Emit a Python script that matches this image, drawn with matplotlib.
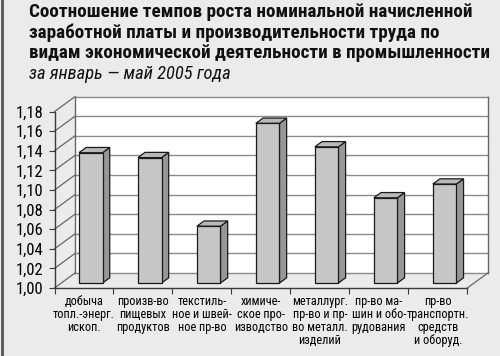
import numpy as np
import matplotlib.pyplot as plt
from matplotlib.patches import Polygon
from matplotlib.lines import Line2D

categories = ['добыча\nтопл.-энерг.\nископ.',
              'произв-во\nпищевых\nпродуктов',
              'текстиль-\nное и швей-\nное пр-во',
              'химиче-\nское про-\nизводство',
              'металлург.\nпр-во и пр-\nво металл.\nизделий',
              'пр-во ма-\nшин и обо-\nрудования',
              'пр-во\nтранспортн.\nсредств\nи оборуд.']
values = [1.133, 1.128, 1.058, 1.163, 1.139, 1.087, 1.101]
yticks = [1.00, 1.02, 1.04, 1.06, 1.08, 1.10, 1.12, 1.14, 1.16, 1.18]
ytick_labels = ['1,00', '1,02', '1,04', '1,06', '1,08', '1,10', '1,12', '1,14', '1,16', '1,18']

title_lines = ['Соотношение темпов роста номинальной начисленной',
               'заработной платы и производительности труда по',
               'видам экономической деятельности в промышленности']
subtitle = 'за январь — май 2005 года'

NARROW = ['Roboto Condensed', 'DejaVu Sans']
BG = '#ebebeb'
GRID = '#8a8a8a'
EDGE = '#3a3a3a'

fig = plt.figure(figsize=(5, 3.56), dpi=100, facecolor=BG)
renderer = fig.canvas.get_renderer()


def fit_size(s, target_px, **kw):
    # font size that makes the string s about target_px wide
    t = fig.text(0, 0, s, fontsize=10, family=NARROW, **kw)
    wpx = t.get_window_extent(renderer).width
    t.remove()
    return 10 * target_px / wpx


ax = fig.add_axes([0.109, 0.191, 0.8256, 0.4955])
ax.set_facecolor('none')
n = len(values)
x0, x1 = -0.5, n - 0.5
y0, y1 = yticks[0], yticks[-1]
ax.set_xlim(x0, x1)
ax.set_ylim(y0, y1)

# depth of the box (pixels) expressed in data units
box = ax.get_window_extent()
ddx = 20.5 * (x1 - x0) / box.width
ddy = 15.0 * (y1 - y0) / box.height


def sh(x, y, d):
    return (x + d * ddx, y + d * ddy)


# back wall
wall = Polygon([sh(x0, y0, 1), sh(x1, y0, 1), sh(x1, y1, 1), sh(x0, y1, 1)],
               closed=True, facecolor='white', edgecolor='none', zorder=0, clip_on=False)
ax.add_patch(wall)
for t in yticks:
    ax.plot([x0 + ddx, x1 + ddx], [t + ddy, t + ddy], color=GRID, lw=1, zorder=1, clip_on=False)
    ax.plot([x0, x0 + ddx], [t, t + ddy], color='#666666', lw=0.9, zorder=1, clip_on=False)
ax.plot([x0 + ddx, x0 + ddx], [y0 + ddy, y1 + ddy], color='#666666', lw=1, zorder=1, clip_on=False)
ax.plot([x1 + ddx, x1 + ddx], [y0 + ddy, y1 + ddy], color='#666666', lw=1, zorder=1, clip_on=False)
ax.plot([x1, x1 + ddx], [y0, y0 + ddy], color='#666666', lw=0.9, zorder=1, clip_on=False)

# bars
w = 0.40
d0, d1 = 0.33, 0.68
for i, v in enumerate(values):
    xl, xr = i - w / 2, i + w / 2
    side = [sh(xr, y0, d0), sh(xr, v, d0), sh(xr, v, d1), sh(xr, y0, d1)]
    top = [sh(xl, v, d0), sh(xr, v, d0), sh(xr, v, d1), sh(xl, v, d1)]
    front = [sh(xl, y0, d0), sh(xr, y0, d0), sh(xr, v, d0), sh(xl, v, d0)]
    ax.add_patch(Polygon(side, closed=True, facecolor='#979797', edgecolor='#1a1a1a',
                         lw=0.9, zorder=3, clip_on=False))
    ax.add_patch(Polygon(top, closed=True, facecolor='#b9b9b9', edgecolor='#1a1a1a',
                         lw=0.9, zorder=3, clip_on=False))
    ax.add_patch(Polygon(front, closed=True, facecolor='#c6c6c6', edgecolor='#1a1a1a',
                         lw=0.9, zorder=4, clip_on=False))

for s in ['top', 'right']:
    ax.spines[s].set_visible(False)
for s in ['left', 'bottom']:
    ax.spines[s].set_color(EDGE)
    ax.spines[s].set_linewidth(1)

ytick_size = fit_size('1,18', 27.5)
ax.set_yticks(yticks, ytick_labels, fontsize=ytick_size, family=NARROW)
ax.tick_params(axis='y', length=4, width=0.8, pad=4, color=EDGE)
ax.set_xticks(range(n), categories, fontsize=8.8, family=NARROW, linespacing=1.0)
ax.set_xticks(np.arange(x0, x1 + 0.01, 1), minor=True)
ax.tick_params(axis='x', which='major', length=0, pad=5)
ax.tick_params(axis='x', which='minor', length=4, width=0.8, color=EDGE)

# titles
title_size = fit_size(title_lines[0], 444, fontweight='bold')
sub_size = fit_size(subtitle, 201, style='italic')
baselines = [16.7, 37.7, 58.5]
for line, b in zip(title_lines, baselines):
    fig.text(29 / 500, 1 - b / 356, line, va='baseline', ha='left', fontsize=title_size,
             fontweight='bold', family=NARROW, color='#111111')
fig.text(29 / 500, 1 - 79 / 356, subtitle, va='baseline', ha='left', fontsize=sub_size,
         style='italic', family=NARROW, color='#111111')

fig.add_artist(Line2D([1.5 / 500, 1.5 / 500], [0, 1], transform=fig.transFigure,
                      color='#555555', lw=2))

fig.savefig('out.png', dpi=100, facecolor=BG)
